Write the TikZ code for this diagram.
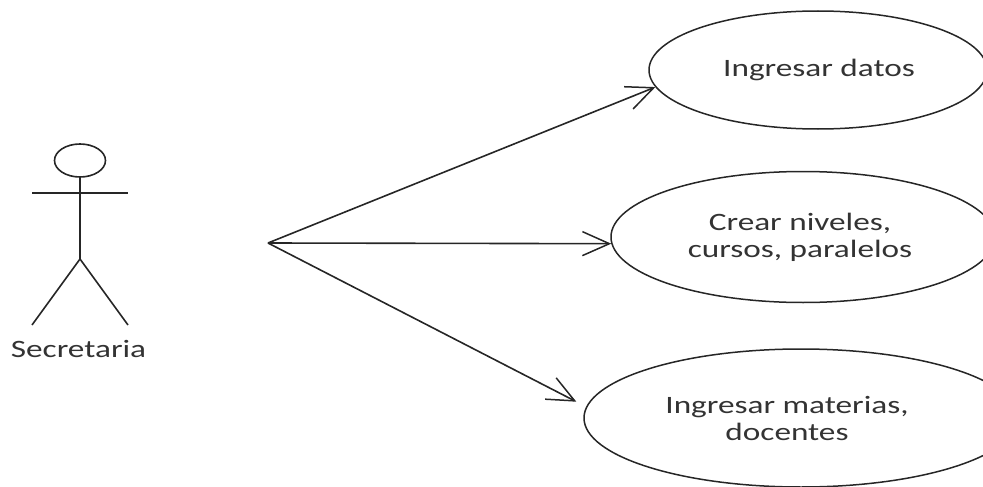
\documentclass[tikz,border=0pt]{standalone}
\usepackage{fontspec}
\setmainfont{Carlito}
\usetikzlibrary{shapes,arrows.meta,positioning}
\tikzstyle{usecase} = [draw=black!85, ellipse, line width=1.5pt, inner sep=0pt]
\tikzstyle{usetext} = [align=center, font=\fontsize{25}{27}\selectfont, text=black!80, xscale=1.33]
\tikzstyle{assoc} = [draw=black!85, line width=1.6pt, -{Straight Barb[length=27pt,width=24pt,line width=1.5pt]}]
\tikzstyle{stick} = [draw=black!85, line width=1.6pt]

\begin{document}
\begin{tikzpicture}[x=1pt,y=-1pt]
\useasboundingbox (0,0) rectangle (983,487);
\clip (0,0) rectangle (983,487);
% actor
\node [stick, ellipse, minimum width=51pt, minimum height=33pt, inner sep=0pt] (head) at (80,160.5) {};
\coordinate (hip) at (80,259);
\coordinate (handl) at (32,193);
\coordinate (handr) at (128,193);
\coordinate (footl) at (32,325);
\coordinate (footr) at (128,325);
\draw [stick] (head.south) -- (hip);
\draw [stick] (handl) -- (handr);
\draw [stick] (footl) -- (hip) -- (footr);
\node [usetext] (secretaria) at (78.5,349) {Secretaria};
% use cases
\node [usecase, minimum width=338pt, minimum height=118pt] (datos) at (818,70) {};
\node [usetext] (datostext) at (819,70) {Ingresar datos};
\node [usecase, minimum width=384pt, minimum height=131pt] (niveles) at (803,237) {};
\node [usetext] (nivelestext) at (800,237) {Crear niveles,\\cursos, paralelos};
\node [usecase, minimum width=434pt, minimum height=138pt] (materias) at (801,418) {};
\node [usetext] (materiastext) at (787,418) {Ingresar materias,\\docentes};
% associations
\coordinate (source) at (268,243);
\draw [assoc] (source) -- (datos.186);
\draw [assoc] (source) -- (niveles.182);
\draw [assoc, shorten >=11pt] (source) -- (materias.177);
\end{tikzpicture}
\end{document}
